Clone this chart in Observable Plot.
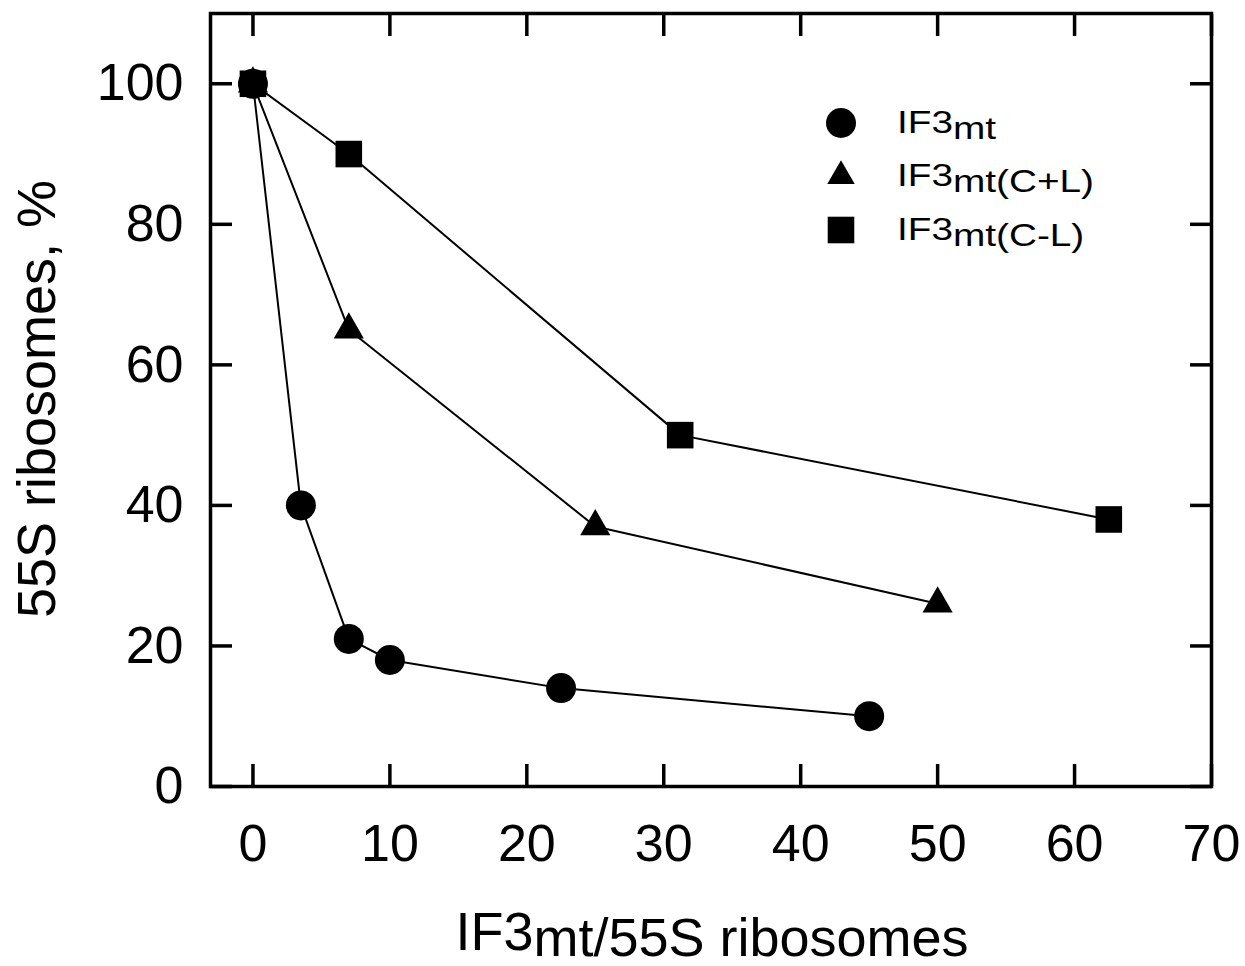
<!DOCTYPE html>
<html><head><meta charset="utf-8">
<script src="https://cdn.jsdelivr.net/npm/d3@7"></script>
<script src="https://cdn.jsdelivr.net/npm/@observablehq/plot@0.6"></script>
<style>body{margin:0;background:#fff} svg{display:block}</style>
</head><body><div id="chart"></div>
<script>
// ---- data ----
const seriesNames = ["IF3mt", "IF3mt(C+L)", "IF3mt(C-L)"];
const ifX = [0, 3.5, 7, 10, 22.5, 45];
const ifY = [100, 40, 21, 18, 14, 10];
const clPlusX = [0, 7, 25, 50];
const clPlusY = [100, 65, 37, 26];
const clMinusX = [0, 7, 31.2, 62.5];
const clMinusY = [100, 90, 50, 38];
const xTicks = [0, 10, 20, 30, 40, 50, 60, 70];
const yTicks = [0, 20, 40, 60, 80, 100];
const xLabel = ["IF3", "mt", "/55S ribosomes"];
const yLabel = "55S ribosomes, %";

const toRows = (xs, ys) => xs.map((x, i) => ({x, y: ys[i]}));
const sIF = toRows(ifX, ifY);
const sPlus = toRows(clPlusX, clPlusY);
const sMinus = toRows(clMinusX, clMinusY);

const font = "'Liberation Sans', Arial, Helvetica, sans-serif";
const lineOpts = {x: "x", y: "y", stroke: "#000", strokeWidth: 2};

const plot = Plot.plot({
  width: 1245, height: 966,
  marginLeft: 210, marginRight: 34, marginTop: 13, marginBottom: 180,
  x: {domain: [-3.1, 70], label: null},
  y: {domain: [0, 110], label: null},
  style: {fontFamily: font, fontSize: "52px", color: "#000", background: "#fff"},
  marks: [
    Plot.line(sIF, lineOpts),
    Plot.line(sPlus, lineOpts),
    Plot.line(sMinus, lineOpts),
    Plot.dot(sMinus, {x: "x", y: "y", symbol: "square", r: 15, fill: "#000", stroke: null}),
    Plot.dot(sPlus, {x: "x", y: "y", symbol: "triangle", r: 11.2, fill: "#000", stroke: null}),
    Plot.dot(sIF, {x: "x", y: "y", symbol: "circle", r: 15, fill: "#000", stroke: null}),
    Plot.frame({stroke: "#000", strokeWidth: 3.5}),
    // tick labels
    Plot.axisX(xTicks, {anchor: "bottom", tickSize: 0, tickPadding: 38, fontSize: 52, label: null}),
    Plot.axisY(yTicks, {anchor: "left", tickSize: 0, tickPadding: 27, fontSize: 52, label: null}),
    // inward ticks on all four sides
    Plot.axisX(xTicks, {anchor: "bottom", tickSize: -22, strokeWidth: 3.5, text: null, label: null}),
    Plot.axisX(xTicks, {anchor: "top", tickSize: -22, strokeWidth: 3.5, text: null, label: null}),
    Plot.axisY(yTicks, {anchor: "left", tickSize: -22, strokeWidth: 3.5, text: null, label: null}),
    Plot.axisY(yTicks, {anchor: "right", tickSize: -22, strokeWidth: 3.5, text: null, label: null})
  ]
});
document.getElementById("chart").appendChild(plot);

const svg = d3.select(plot);

// axis titles
const xt = svg.append("text")
  .attr("x", 712).attr("y", 950)
  .attr("text-anchor", "middle")
  .attr("font-family", font).attr("font-size", 54).attr("fill", "#000");
xt.append("tspan").text(xLabel[0]);
xt.append("tspan").attr("dy", 6).text(xLabel[1] + xLabel[2]);

svg.append("text")
  .attr("transform", "translate(55,399) rotate(-90)")
  .attr("text-anchor", "middle")
  .attr("font-family", font).attr("font-size", 54).attr("fill", "#000")
  .text(yLabel);

// legend
const legendSymbols = [
  {sym: d3.symbolCircle, size: Math.PI * 15 * 15, cy: 123},
  {sym: d3.symbolTriangle, size: Math.PI * 10.2 * 10.2, cy: 176},
  {sym: d3.symbolSquare, size: Math.PI * 15 * 15, cy: 230}
];
const legendBaselines = [133, 186, 240];
seriesNames.forEach((name, i) => {
  const L = legendSymbols[i];
  svg.append("path")
    .attr("transform", `translate(841,${L.cy})`)
    .attr("d", d3.symbol(L.sym, L.size)())
    .attr("fill", "#000");
  const t = svg.append("text")
    .attr("transform", `translate(897,${legendBaselines[i]}) scale(1.25,1)`)
    .attr("x", 0).attr("y", 0)
    .attr("text-anchor", "start")
    .attr("font-family", font).attr("font-size", 31).attr("fill", "#000");
  t.append("tspan").text(name.slice(0, 3));
  t.append("tspan").attr("dy", 6).text(name.slice(3));
});
</script>
</body></html>
